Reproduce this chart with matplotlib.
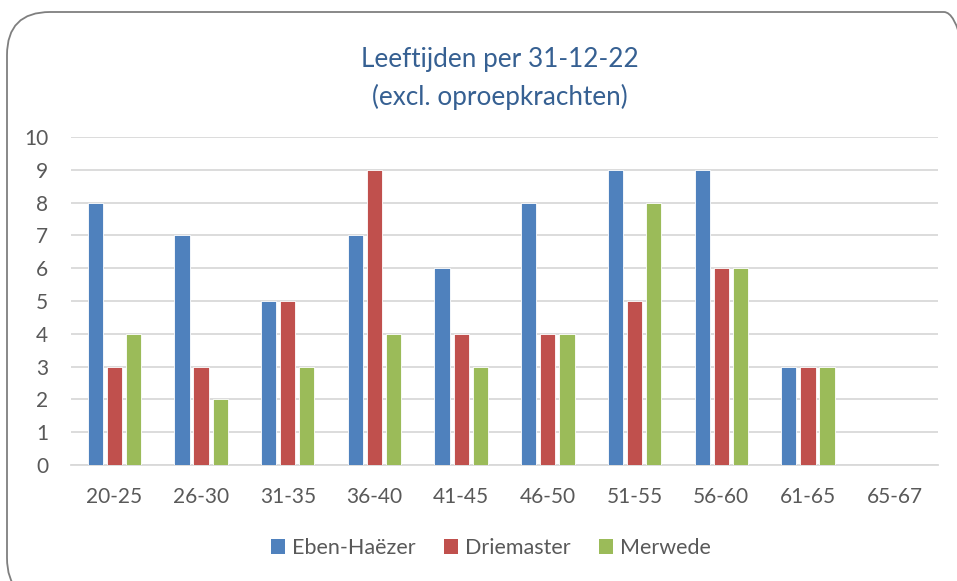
import matplotlib
matplotlib.use("Agg")

import matplotlib.pyplot as plt
from matplotlib.patches import FancyBboxPatch, Patch

# leeftijdscategorieen
categories = ["20-25", "26-30", "31-35", "36-40", "41-45",
              "46-50", "51-55", "56-60", "61-65", "65-67"]
eben_haezer = [8, 7, 5, 7, 6, 8, 9, 9, 3, 0]
driemaster = [3, 3, 5, 9, 4, 4, 5, 6, 3, 0]
merwede = [4, 2, 3, 4, 3, 4, 8, 6, 3, 0]
series_names = ["Eben-Haëzer", "Driemaster", "Merwede"]
y_ticks = list(range(0, 11))

colors = ["#4f81bd", "#c0504d", "#9bbb59"]
text_color = "#595959"
plt.rcParams['font.family'] = ['Lato', 'DejaVu Sans']


def main():
    W, H = 957, 581
    fig = plt.figure(figsize=(W / 100, H / 100), dpi=100)

    # rounded border of the chart area
    border = FancyBboxPatch((7 / W, -20 / H), 980 / W, (H - 12 + 20) / H,
                            boxstyle="round,pad=0,rounding_size=0.045",
                            transform=fig.transFigure, facecolor="none",
                            edgecolor="#7f7f7f", linewidth=1.3,
                            mutation_aspect=W / H, zorder=0)
    fig.patches.append(border)

    ax = fig.add_axes([71 / W, (H - 465) / H, (938 - 71) / W, (465 - 137) / H])
    ax.set_facecolor("none")

    width = 0.175
    offsets = [-0.22, 0, 0.22]
    for values, off, col, name in zip([eben_haezer, driemaster, merwede],
                                      offsets, colors, series_names):
        xs = [i + off for i in range(len(categories))]
        ax.bar(xs, values, width=width, color=col, edgecolor="white",
               linewidth=0.6, label=name, zorder=3)

    ax.set_xlim(-0.5, len(categories) - 0.5)
    ax.set_ylim(0, 10)
    ax.set_yticks(y_ticks)
    ax.set_xticks(range(len(categories)))
    ax.set_xticklabels(categories)
    ax.grid(axis="y", color="#d9d9d9", linewidth=1.3, zorder=0)
    for s in ["top", "right", "left"]:
        ax.spines[s].set_visible(False)
    ax.spines["bottom"].set_color("#d9d9d9")
    ax.spines["bottom"].set_linewidth(1.3)
    ax.tick_params(axis="both", length=0, labelsize=15, colors=text_color)
    ax.tick_params(axis="x", pad=16)
    ax.tick_params(axis="y", pad=16.5)

    fig.text(500 / W, (H - 60) / H, "Leeftijden per 31-12-22",
             ha="center", va="center", fontsize=18.8, color="#366092")
    fig.text(500 / W, (H - 97) / H, "(excl. oproepkrachten)",
             ha="center", va="center", fontsize=18.8, color="#366092")

    handles = [Patch(facecolor=c, edgecolor="none") for c in colors]
    fig.legend(handles, series_names, loc="center", ncol=3,
               bbox_to_anchor=(491 / W, (H - 548) / H), frameon=False,
               fontsize=15.5, labelcolor=text_color, handlelength=0.65,
               handleheight=0.65, handletextpad=0.33, columnspacing=1.3)

    fig.savefig("out.png", dpi=100)


if __name__ == "__main__":
    main()
